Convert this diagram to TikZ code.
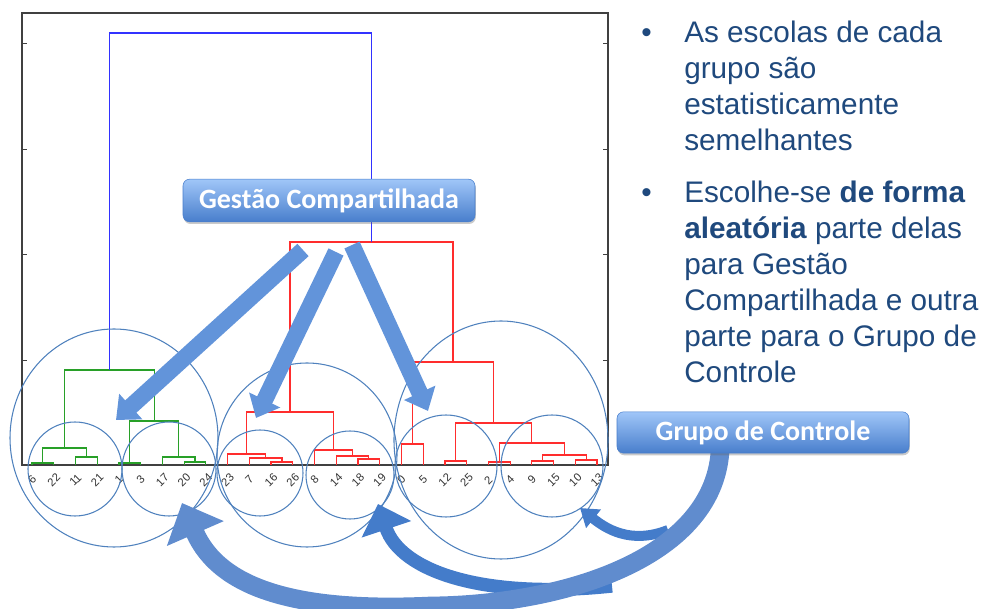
\documentclass[tikz,border=0pt]{standalone}
\usepackage{fontspec}
\setmainfont{Liberation Sans}
\newfontfamily\tagfont{Carlito}
\usetikzlibrary{arrows.meta, positioning, shadows}

\definecolor{txtblue}{RGB}{31,73,125}
\definecolor{ringblue}{RGB}{79,129,189}
\definecolor{arrblue}{RGB}{98,148,218}
\definecolor{curveblue}{RGB}{68,124,202}
\definecolor{bandblue}{RGB}{96,140,206}
\definecolor{tagtop}{RGB}{160,198,248}
\definecolor{tagbot}{RGB}{72,126,204}
\definecolor{dgreen}{RGB}{40,160,40}
\definecolor{dred}{RGB}{255,45,45}
\definecolor{dblue}{RGB}{50,50,255}

% one link of the dendrogram: style, left foot, right foot, height
\newcommand{\merge}[6]{\draw[#1] (#2,#3) |- (#4,#6) -- (#4,#5);}

\begin{document}
\begin{tikzpicture}[
    x=0.75pt, y=-0.75pt,
    link/.style={line width=0.9pt},
    grn/.style={link, draw=dgreen},
    rd/.style={link, draw=dred},
    blu/.style={link, line width=1.1pt, draw=dblue},
    ring/.style={draw=ringblue, line width=0.8pt},
    leaf/.style={font=\fontsize{8.5}{9}\selectfont, rotate=45, inner sep=0pt, text=black!80},
    blockarrow/.style={draw=arrblue, line width=12.5pt, -{Triangle[length=15pt, width=25pt]}},
    bendarrow/.style={draw=curveblue},
    tag/.style={rectangle, rounded corners=5pt, top color=tagtop, bottom color=tagbot, draw=tagbot,
        minimum width=219pt, text=white, font=\tagfont\bfseries\fontsize{21}{24}\selectfont,
        drop shadow={shadow xshift=0.6pt, shadow yshift=-1.6pt, opacity=0.35, fill=black!60}},
    point/.style={text=txtblue, font=\fontsize{22.3}{26.9}\selectfont, align=left, inner sep=0pt, anchor=base west}
]
    \useasboundingbox (0,0) rectangle (983,609);

    % axes of the dendrogram
    \draw[line width=0.8pt, black!75] (22,13) rectangle (608,465);
    \foreach \ty in {43,149,254,360} {
        \draw[line width=0.6pt, black!75] (22,\ty) -- (27,\ty);
        \draw[line width=0.6pt, black!75] (603,\ty) -- (608,\ty);
    }

    % green cluster
    \merge{grn}{32}{465}{53.7}{465}{463}
    \merge{grn}{75.5}{465}{97.2}{465}{457}
    \merge{grn}{42.85}{463}{86.35}{457}{448}
    \merge{grn}{118.9}{465}{140.7}{465}{463}
    \merge{grn}{184.1}{465}{205.8}{465}{462}
    \merge{grn}{162.4}{465}{194.95}{462}{457}
    \merge{grn}{129.8}{463}{178.7}{457}{421}
    \merge{grn}{64.6}{448}{154.25}{421}{370}
    % red cluster, left part
    \merge{rd}{271}{465}{292.8}{465}{462}
    \merge{rd}{249.3}{465}{281.9}{462}{458}
    \merge{rd}{227.6}{465}{265.6}{458}{454}
    \merge{rd}{358}{465}{379.7}{465}{459}
    \merge{rd}{336.2}{465}{368.85}{459}{456}
    \merge{rd}{314.5}{465}{352.5}{456}{450}
    \merge{rd}{246.6}{454}{333.5}{450}{412}
    % red cluster, right part
    \merge{rd}{401.4}{465}{423.1}{465}{444}
    \merge{rd}{444.9}{465}{466.6}{465}{461}
    \merge{rd}{488.3}{465}{510.1}{465}{462}
    \merge{rd}{531.8}{465}{553.5}{465}{461}
    \merge{rd}{575.2}{465}{597}{465}{460}
    \merge{rd}{542.65}{461}{586.1}{460}{455}
    \merge{rd}{499.2}{462}{564.4}{455}{443}
    \merge{rd}{455.75}{461}{531.8}{443}{423}
    \merge{rd}{412.25}{444}{493.8}{423}{362}
    \merge{rd}{290.05}{412}{453}{362}{242}
    % root
    \merge{blu}{109.4}{370}{371.5}{242}{33}

    % leaf labels
    \foreach \lab [count=\i from 0] in {6,22,11,21,1,3,17,20,24,23,7,16,26,8,14,18,19,0,5,12,25,2,4,9,15,10,13}
        \node[leaf] (leaf\i) at ({32+21.73*\i},480) {\lab};

    % groups of schools
    \draw[ring] (114,438) ellipse [x radius=104, y radius=109];
    \draw[ring] (307,455) ellipse [x radius=90, y radius=92];
    \draw[ring] (501,440) ellipse [x radius=107, y radius=119];
    \draw[ring] (75,469) circle [radius=47];
    \draw[ring] (169,469) circle [radius=47];
    \draw[ring] (260,473) circle [radius=43];
    \draw[ring] (350,475) circle [radius=44];
    \draw[ring] (446,466) circle [radius=51];
    \draw[ring] (552,466) circle [radius=51];

    % arrows from Gestao Compartilhada
    \coordinate (gsA) at (303,250);
    \coordinate (gsB) at (336,252);
    \coordinate (gsC) at (352,245);
    \coordinate (gtA) at (116,420);
    \coordinate (gtB) at (256,418);
    \coordinate (gtC) at (428,411);
    \draw[blockarrow] (gsA) -- (gtA);
    \draw[blockarrow] (gsB) -- (gtB);
    \draw[blockarrow] (gsC) -- (gtC);

    % arrows from Grupo de Controle
    \coordinate (gcOut) at (720,452);
    \coordinate (tailR) at (668,530);
    \coordinate (tailM) at (612,586);
    \coordinate (hitR) at (580,508);
    \coordinate (hitM) at (378,504);
    \coordinate (hitL) at (182,503);
    \draw[bendarrow, line width=7.5pt, -{Triangle[length=13pt, width=17pt]}]
        (tailR) .. controls (630,545) and (605,528) .. (hitR);
    \draw[bendarrow, line width=10pt, -{Triangle[length=20pt, width=38pt]}]
        (tailM) .. controls (480,600) and (400,570) .. (hitM);
    \draw[bendarrow, draw=bandblue, line width=14pt, -{Triangle[length=25pt, width=45pt]}]
        (gcOut) .. controls (712,560) and (560,605) .. (430,606)
        .. controls (300,612) and (220,590) .. (hitL);

    % labels
    \node[tag, minimum height=32pt] (gestao) at (329,200.5) {Gestão Compartilhada};
    \node[tag, minimum height=31pt] (controle) at (763,432.5) {Grupo de Controle};

    % text on the right (a node of several lines sits on its last baseline)
    \node[point] (bulA) at (641,43) {•};
    \node[point] (escolas) at (684,150.6) {As escolas de cada\\grupo são\\estatisticamente\\semelhantes};
    \node[point] (bulB) at (641,203) {•};
    \node[point] (escolha) at (684,382.3) {Escolhe-se \textbf{de forma}\\\textbf{aleatória} parte delas\\para Gestão\\Compartilhada e outra\\parte para o Grupo de\\Controle};
\end{tikzpicture}
\end{document}
